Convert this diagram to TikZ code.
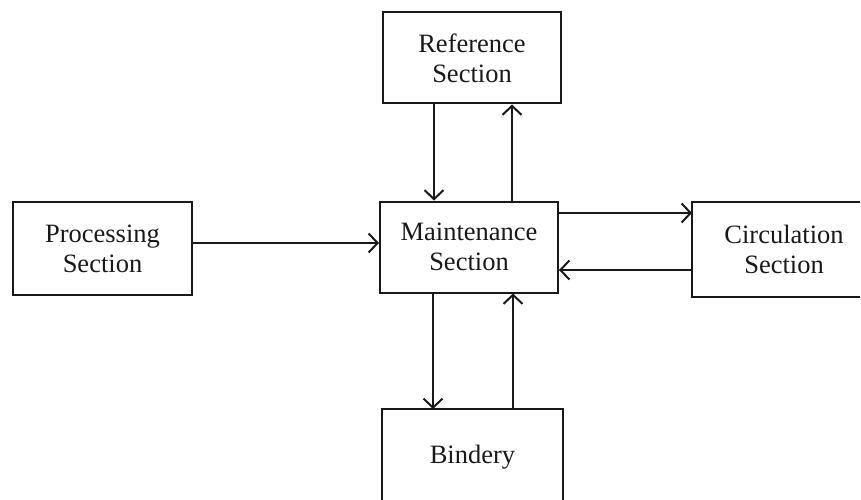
\documentclass[tikz,border=0pt]{standalone}
\usepackage{fontspec}
\setmainfont{Liberation Serif}
\usetikzlibrary{arrows.meta}
\tikzset{
  secbox/.style={draw=black!90, line width=2pt, rectangle, align=center,
    font=\fontsize{26.5}{30}\selectfont, text=black!90,
    minimum width=178pt, minimum height=91pt, inner sep=0pt},
  openbox/.style={secbox, draw=none},
  edge/.style={draw=black!90, line width=2pt, line join=miter},
  flow/.style={draw=black!90, line width=2pt,
    -{Straight Barb[length=9pt,width=19pt,line width=2pt]}}
}
\begin{document}
\begin{tikzpicture}[x=1pt,y=-1pt]
  \useasboundingbox (0,0) rectangle (861,500);
  \fill[white] (0,0) rectangle (861,500);

  % section boxes
  \node[secbox] (ref)  at (472,58)    {Reference\\Section};
  \node[secbox, minimum width=179pt, minimum height=93pt] (proc) at (102.5,248.5) {Processing\\Section};
  \node[secbox] (main) at (469,247)   {Maintenance\\Section};

  % boxes running off the edge of the page: only their visible sides are drawn
  \node[openbox, minimum width=182pt, minimum height=93pt] (circ) at (784,249.5) {Circulation\\Section};
  \coordinate (circNE) at ([xshift=-1pt]circ.north east -| 861,0);
  \coordinate (circSE) at ([xshift=-1pt]circ.south east -| 861,0);
  \draw[edge] (circNE) -- (circ.north west) -- (circ.south west) -- (circSE);

  \node[openbox, minimum width=179pt, minimum height=94pt] (bind) at (472.5,457) {Bindery};
  \coordinate (bindSW) at (bind.west |- 0,500);
  \coordinate (bindSE) at (bind.east |- 0,500);
  \draw[edge] (bindSW) -- (bind.north west) -- (bind.north east) -- (bindSE);

  % Processing -> Maintenance
  \draw[flow] ([yshift=4pt]main.west -| proc.east) -- ([yshift=4pt]main.west);

  % Maintenance <-> Circulation
  \draw[flow] ([yshift=34pt]main.east) -- ([yshift=34pt]main.east -| circ.west);
  \draw[flow] ([yshift=-23pt]main.east -| circ.west) -- ([yshift=-23pt]main.east);

  % Reference <-> Maintenance
  \draw[flow] ([xshift=-35pt]main.north |- ref.south) -- ([xshift=-35pt]main.north);
  \draw[flow] ([xshift=43pt]main.north) -- ([xshift=43pt]main.north |- ref.south);

  % Maintenance <-> Bindery
  \draw[flow] ([xshift=-36pt]main.south) -- ([xshift=-36pt]main.south |- bind.north);
  \draw[flow] ([xshift=44pt]main.south |- bind.north) -- ([xshift=44pt]main.south);
\end{tikzpicture}
\end{document}
